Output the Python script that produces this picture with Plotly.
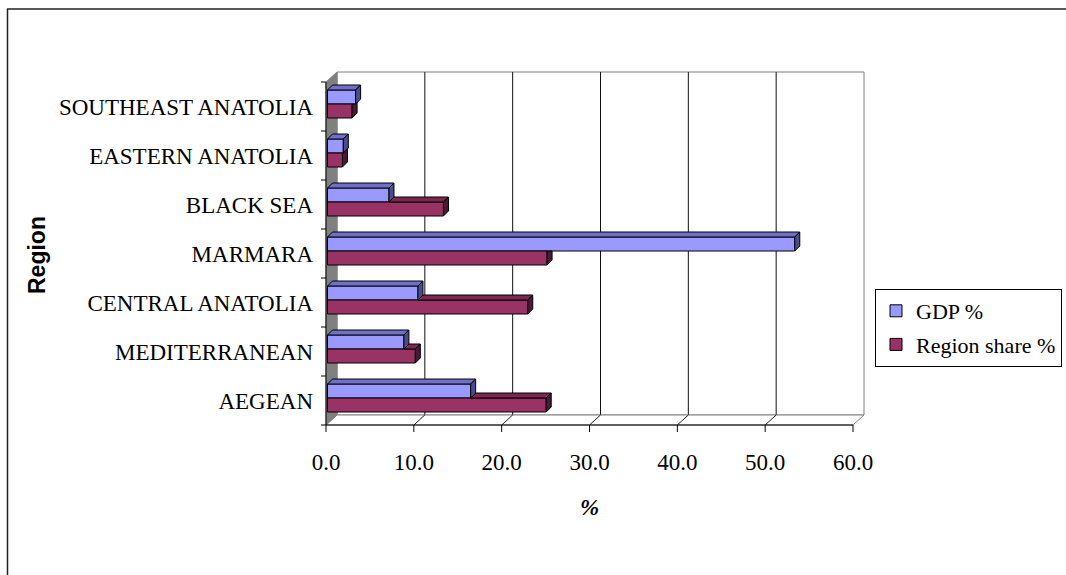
import plotly.graph_objects as go

# ---- data -------------------------------------------------------------
regions = ["AEGEAN", "MEDITERRANEAN", "CENTRAL ANATOLIA", "MARMARA",
           "BLACK SEA", "EASTERN ANATOLIA", "SOUTHEAST ANATOLIA"]
gdp_pct = [16.3, 8.7, 10.3, 53.2, 7.0, 1.8, 3.2]
region_share_pct = [24.9, 10.0, 22.8, 25.0, 13.2, 1.7, 2.8]
x_ticks = [0, 10, 20, 30, 40, 50, 60]

series = [
    # name, values, front, top face, side face
    ("GDP %", gdp_pct, "#9999FF", "#7070C8", "#4B4B8F"),
    ("Region share %", region_share_pct, "#993366", "#7A2952", "#4C1933"),
]

# ---- geometry (pixels) ------------------------------------------------
W, H = 1066, 575
FRONT_L, FRONT_R, FRONT_T, FRONT_B = 326, 853, 82, 425
WALL_DX, WALL_DY = 11, 10          # depth of the walls
PAD_L, PAD_B, PAD_R, PAD_T = 8, 9, 2, 2

X_MAX = x_ticks[-1]
N = len(regions)
PXU = (FRONT_R - FRONT_L) / X_MAX      # pixels per percent
PXC = (FRONT_B - FRONT_T) / N          # pixels per category

plot_l = FRONT_L - PAD_L
plot_r = FRONT_R + WALL_DX + PAD_R
plot_t = FRONT_T - WALL_DY - PAD_T
plot_b = FRONT_B + PAD_B

x_range = [-PAD_L / PXU, X_MAX + (WALL_DX + PAD_R) / PXU]
y_lo, y_hi = -0.5, N - 0.5
y_range = [y_lo - PAD_B / PXC, y_hi + (WALL_DY + PAD_T) / PXC]


def px_x(px):
    return (px - plot_l) / (plot_r - plot_l)


def px_y(py):
    return (plot_b - py) / (plot_b - plot_t)


wdx, wdy = WALL_DX / PXU, WALL_DY / PXC      # wall depth in data units
bx, by = 1.5 / PXU, 2.5 / PXC                # bar front-face offset
bdx, bdy = 5 / PXU, 5 / PXC                  # bar depth
bw = 14 / PXC                                # bar thickness
pos = list(range(N))

fig = go.Figure()

# front faces of the bars
offsets = {"GDP %": by, "Region share %": by - bw}
for name, vals, front, _, _ in series:
    fig.add_trace(go.Bar(
        y=pos, x=vals, base=bx, orientation="h", name=name,
        legendgroup=name,
        width=bw, offset=offsets[name],
        marker=dict(color=front, line=dict(color="black", width=1)),
        hoverinfo="skip",
    ))

shapes = []


def poly(points, fill, line="black", layer="above", width=1):
    d = "M " + " L ".join(f"{x},{y}" for x, y in points) + " Z"
    shapes.append(dict(type="path", path=d, xref="x", yref="y",
                       fillcolor=fill, line=dict(color=line, width=width),
                       layer=layer))


def seg(x0, y0, x1, y1, color="black", layer="below", width=1):
    shapes.append(dict(type="line", x0=x0, y0=y0, x1=x1, y1=y1,
                       xref="x", yref="y", layer=layer,
                       line=dict(color=color, width=width)))


# back wall with vertical gridlines
poly([(wdx, y_lo + wdy), (X_MAX + wdx, y_lo + wdy),
      (X_MAX + wdx, y_hi + wdy), (wdx, y_hi + wdy)],
     "white", line="#808080", layer="below")
for v in x_ticks[1:-1]:
    seg(v + wdx, y_lo + wdy, v + wdx, y_hi + wdy, color="#101010")

# floor
poly([(0, y_lo), (X_MAX, y_lo), (X_MAX + wdx, y_lo + wdy), (wdx, y_lo + wdy)],
     "white", line="#808080", layer="below")
for v in x_ticks[1:-1]:
    seg(v, y_lo, v + wdx, y_lo + wdy, color="#202020")

# left side wall
poly([(0, y_lo), (0, y_hi), (wdx, y_hi + wdy), (wdx, y_lo + wdy)],
     "#808080", line="#808080", layer="below")

# front edges and tick marks
seg(0, y_lo, X_MAX, y_lo)
seg(0, y_lo, 0, y_hi)
for v in x_ticks:
    seg(v, y_lo, v, y_lo - 7 / PXC)
for k in range(N + 1):
    seg(-5 / PXU, k - 0.5, 0, k - 0.5)

# top and end faces of the bars
for i in pos:
    g, r = gdp_pct[i], region_share_pct[i]
    yt = i + by                      # boundary between the two bars
    yg_t = yt + bw
    yr_b = yt - bw
    # region bar
    _, _, _, r_top, r_side = series[1]
    if r > g:
        poly([(bx + g, yt), (bx + r, yt), (bx + r + bdx, yt + bdy),
              (bx + g + bdx, yt + bdy)], r_top)
        poly([(bx + r, yr_b), (bx + r, yt), (bx + r + bdx, yt + bdy),
              (bx + r + bdx, yr_b + bdy)], r_side)
    else:
        xc = min(g, r + bdx)
        yc = yt + max(0.0, r + bdx - g) * bdy / bdx
        poly([(bx + r, yr_b), (bx + r, yt), (bx + xc, yt),
              (bx + r + bdx, yc), (bx + r + bdx, yr_b + bdy)], r_side)
    # GDP bar
    _, _, _, g_top, g_side = series[0]
    poly([(bx, yg_t), (bx + g, yg_t), (bx + g + bdx, yg_t + bdy),
          (bx + bdx, yg_t + bdy)], g_top)
    poly([(bx + g, yt), (bx + g, yg_t), (bx + g + bdx, yg_t + bdy),
          (bx + g + bdx, yt + bdy)], g_side)

# outer chart frame (left and top edges)
shapes.append(dict(type="line", xref="paper", yref="paper",
                   x0=px_x(7.5), y0=px_y(9), x1=px_x(7.5), y1=px_y(H + 5),
                   line=dict(color="#202020", width=1.5)))
shapes.append(dict(type="line", xref="paper", yref="paper",
                   x0=px_x(7), y0=px_y(9), x1=px_x(W + 5), y1=px_y(9),
                   line=dict(color="#202020", width=1.5)))

serif = "Liberation Serif"
sans = "Liberation Sans"

fig.update_layout(
    width=W, height=H,
    margin=dict(l=plot_l, r=W - plot_r, t=plot_t, b=H - plot_b, pad=0,
                autoexpand=False),
    paper_bgcolor="white", plot_bgcolor="white",
    barmode="overlay",
    shapes=shapes,
    xaxis=dict(range=x_range, tickvals=x_ticks, tickformat=".1f",
               showgrid=False, zeroline=False, showline=False, ticks="",
               ticklabelstandoff=12,
               tickfont=dict(family=serif, size=23, color="black"),
               fixedrange=True),
    yaxis=dict(range=y_range, tickvals=pos, ticktext=regions,
               showgrid=False, zeroline=False, showline=False, ticks="",
               ticklabelstandoff=4,
               tickfont=dict(family=serif, size=23, color="black"),
               fixedrange=True),
    legend=dict(x=px_x(875), y=px_y(289), xanchor="left", yanchor="top",
                bgcolor="white", bordercolor="black", borderwidth=1,
                traceorder="grouped", tracegroupgap=2,
                font=dict(family=serif, size=22, color="black")),
    annotations=[
        dict(text="<b><i>%</i></b>", xref="paper", yref="paper",
             x=px_x((FRONT_L + FRONT_R) / 2), y=px_y(507),
             showarrow=False, xanchor="center", yanchor="middle",
             font=dict(family=serif, size=23, color="black")),
        dict(text="<b>Region</b>", xref="paper", yref="paper",
             x=px_x(37), y=px_y(255), textangle=-90,
             showarrow=False, xanchor="center", yanchor="middle",
             font=dict(family=sans, size=23, color="black")),
    ],
)

fig.write_html("out.html")
